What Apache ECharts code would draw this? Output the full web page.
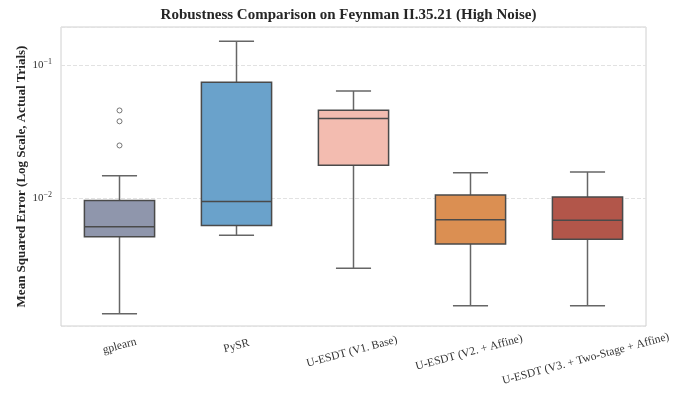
<!DOCTYPE html>
<html>
<head>
<meta charset="utf-8">
<script src="https://cdn.jsdelivr.net/npm/echarts@6/dist/echarts.min.js"></script>
<style>
html,body{margin:0;padding:0;background:#fff;}
#main{width:697px;height:397px;}
</style>
</head>
<body>
<div id="main"></div>
<script>
const categories = ['gplearn', 'PySR', 'U-ESDT (V1. Base)', 'U-ESDT (V2. + Affine)', 'U-ESDT (V3. + Two-Stage + Affine)'];
const lowerWhisker = [0.00136, 0.00528, 0.00298, 0.00156, 0.00156];
const q1 = [0.00515, 0.00624, 0.0177, 0.00454, 0.00493];
const median = [0.00612, 0.00944, 0.0396, 0.00691, 0.00684];
const q3 = [0.00962, 0.0741, 0.0457, 0.01059, 0.01023];
const upperWhisker = [0.01473, 0.1506, 0.0638, 0.01556, 0.01574];
const outlierCategory = [0, 0, 0];
const outlierValues = [0.0456, 0.0378, 0.0249];
const boxColors = ['#8f96ac', '#6aa2cb', '#f3bcb0', '#db8f52', '#b2564a'];
const yMin = 0.0011;
const yMax = 0.1928;

// per-label vertical drop (px) and horizontal compensation spacer (px), emulating matplotlib's top-anchored rotated labels
const labelDrop = [0, 0, 10, 12, 24];
const labelBack = [0, 0, 3, 3, 5];

const boxData = categories.map((c, i) => [i, lowerWhisker[i], q1[i], median[i], q3[i], upperWhisker[i]]);
const outlierData = outlierValues.map((v, i) => [outlierCategory[i], v]);

const chart = echarts.init(document.getElementById('main'), null, {renderer: 'canvas'});

function renderBox(params, api) {
  const idx = api.value(0);
  const p0 = api.coord([0, api.value(3)]);
  const p1 = api.coord([1, api.value(3)]);
  const band = Math.abs(p1[0] - p0[0]);
  const cx = api.coord([idx, api.value(3)])[0];
  const half = band * 0.6 / 2;
  const capHalf = half / 2;
  const yLo = api.coord([idx, api.value(1)])[1];
  const yQ1 = api.coord([idx, api.value(2)])[1];
  const yMed = api.coord([idx, api.value(3)])[1];
  const yQ3 = api.coord([idx, api.value(4)])[1];
  const yHi = api.coord([idx, api.value(5)])[1];
  const wStyle = {stroke: '#666666', lineWidth: 1.5};
  const bStyle = {stroke: '#4a4a4a', lineWidth: 1.5};
  return {
    type: 'group',
    children: [
      {type: 'line', shape: {x1: cx, y1: yQ1, x2: cx, y2: yLo}, style: wStyle},
      {type: 'line', shape: {x1: cx, y1: yQ3, x2: cx, y2: yHi}, style: wStyle},
      {type: 'line', shape: {x1: cx - capHalf, y1: yLo, x2: cx + capHalf, y2: yLo}, style: wStyle},
      {type: 'line', shape: {x1: cx - capHalf, y1: yHi, x2: cx + capHalf, y2: yHi}, style: wStyle},
      {type: 'rect', shape: {x: cx - half, y: yQ3, width: half * 2, height: yQ1 - yQ3},
        style: {fill: boxColors[idx], stroke: '#4a4a4a', lineWidth: 1.5}},
      {type: 'line', shape: {x1: cx - half, y1: yMed, x2: cx + half, y2: yMed}, style: bStyle}
    ]
  };
}

const xRich = {t: {fontFamily: 'Liberation Serif', fontSize: 11.5, color: '#333333', lineHeight: 13}};
categories.forEach((c, i) => {
  xRich['s' + i] = {height: labelDrop[i], lineHeight: labelDrop[i], width: 1, fontSize: 1};
  xRich['w' + i] = {width: labelBack[i] * 2, fontSize: 1};
});

const option = {
  backgroundColor: '#ffffff',
  animation: false,
  title: {
    text: 'Robustness Comparison on Feynman II.35.21 (High Noise)',
    left: 'center',
    top: 3,
    textStyle: {fontFamily: 'Liberation Serif', fontWeight: 'bold', fontSize: 15, color: '#262626'}
  },
  grid: {
    left: 61, right: 51, top: 27, bottom: 71,
    show: true, borderColor: '#d0d0d0', borderWidth: 1, backgroundColor: 'transparent'
  },
  xAxis: {
    type: 'category',
    data: categories.map((c) => ({
      value: c,
      textStyle: {align: 'center', verticalAlign: 'middle'}
    })),
    boundaryGap: true,
    axisLine: {show: false},
    axisTick: {show: false},
    splitLine: {show: false},
    axisLabel: {
      interval: 0,
      rotate: 15,
      align: 'center',
      verticalAlign: 'middle',
      margin: 20,
      formatter: function (value, index) {
        return '{s' + index + '| }\n{t|' + value + '}{w' + index + '| }';
      },
      rich: xRich
    }
  },
  yAxis: {
    type: 'log',
    logBase: 10,
    min: yMin,
    max: yMax,
    name: 'Mean Squared Error (Log Scale, Actual Trials)',
    nameLocation: 'middle',
    nameGap: 33,
    nameMoveOverlap: false,
    nameTextStyle: {fontFamily: 'Liberation Serif', fontWeight: 'bold', fontSize: 13, color: '#262626'},
    axisLine: {show: false},
    axisTick: {show: false},
    minorTick: {show: false},
    splitLine: {show: true, lineStyle: {color: '#e2e2e2', type: [4, 2], width: 1}},
    axisLabel: {
      showMinLabel: false,
      showMaxLabel: false,
      margin: 9,
      formatter: function (v) {
        const e = Math.round(Math.log10(v));
        if (Math.abs(Math.log10(v) - e) > 1e-6) return '';
        return '{b|10}{s|' + (e < 0 ? '\u2212' : '') + Math.abs(e) + '}';
      },
      rich: {
        b: {fontFamily: 'Liberation Serif', fontSize: 11, color: '#333333'},
        s: {fontFamily: 'Liberation Serif', fontSize: 8, color: '#333333', padding: [0, 0, 7, 0]}
      }
    }
  },
  series: [
    {
      type: 'custom',
      renderItem: renderBox,
      data: boxData,
      encode: {x: 0, y: [1, 2, 3, 4, 5]},
      z: 2
    },
    {
      type: 'scatter',
      data: outlierData,
      symbol: 'circle',
      symbolSize: 5,
      itemStyle: {color: '#ffffff', borderColor: '#555555', borderWidth: 1},
      z: 3
    }
  ]
};
chart.setOption(option);
</script>
</body>
</html>
